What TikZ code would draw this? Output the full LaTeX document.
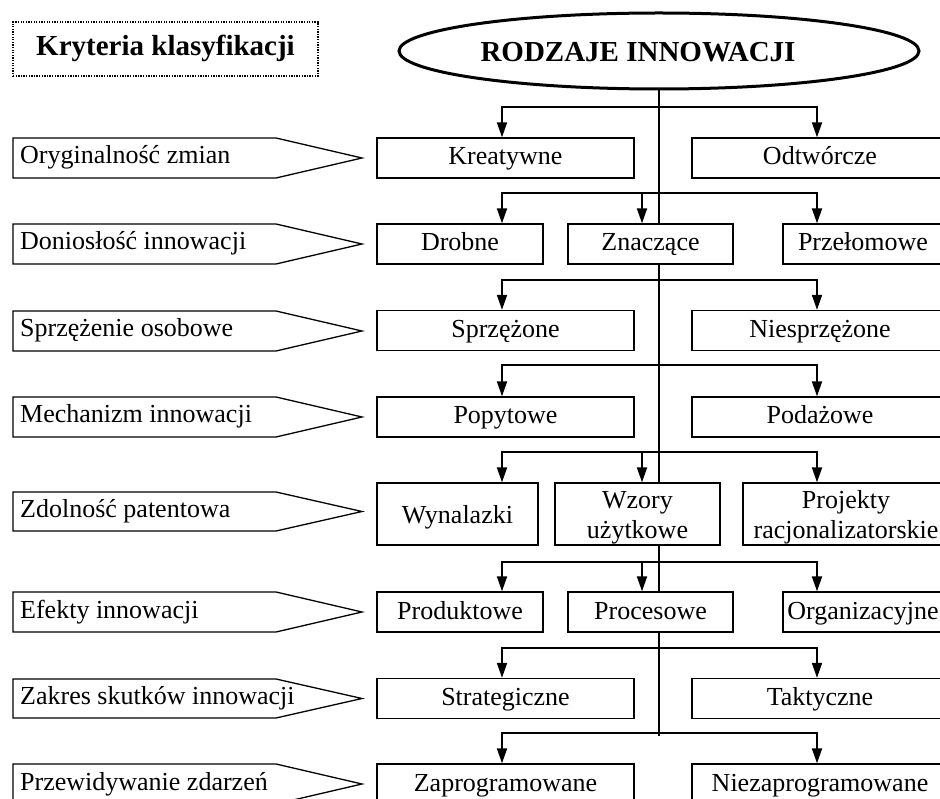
\documentclass[tikz,border=0pt]{standalone}
\usepackage{fontspec}
\setmainfont{Liberation Serif}
\usetikzlibrary{arrows.meta,shapes.geometric}
\pgfdeclarelayer{bg}
\pgfsetlayers{bg,main}
\tikzset{
 boxbase/.style={draw, line width=1.3pt, fill=white, inner sep=0pt,
   font=\fontsize{26}{30}\selectfont},
 box/.style={boxbase, minimum height=40pt, text height=19pt, text depth=5pt},
 tallone/.style={boxbase, minimum height=62pt, text height=18pt, text depth=0pt},
 talltwo/.style={boxbase, minimum height=62pt, align=center},
 fork/.style={line width=1.8pt, -{Triangle[length=15pt,width=10pt]}},
 trunk/.style={line width=1.3pt},
 critpath/.style={line width=1.3pt, line join=miter},
 crittext/.style={anchor=west, inner sep=0pt, text height=18pt, text depth=6pt,
   font=\fontsize{26}{30}\selectfont},
 boldtext/.style={font=\bfseries\fontsize{29}{32}\selectfont, inner sep=0pt},
}
\newcommand\critrow[4]{%
  \draw[critpath] (13,#1) -- (276,#1) -- (362,{(#1+#2)/2}) -- (276,#2) -- (13,#2) -- cycle;
  \node[crittext] (#3) at (20,{(#1+#2)/2}) {#4};}
\newcommand\topstrut{\rule{0pt}{24pt}}
\newcommand\botstrut{\rule[-6pt]{0pt}{6pt}}
\begin{document}
\begin{tikzpicture}[x=1pt,y=-1pt]
\useasboundingbox (0,0) rectangle (940,799);
\clip (0,0) rectangle (940,799);

% header
\node[draw, dash pattern=on 1.3pt off 1.3pt, line width=1.2pt, minimum width=305pt,
  minimum height=54pt, boldtext, text height=20pt, text depth=7pt] (krit) at (165.5,49) {Kryteria klasyfikacji};
\node[ellipse, draw, line width=3pt, minimum width=520pt, minimum height=76pt, inner sep=0pt] (top) at (659,51) {};
\node[boldtext, text height=20pt, text depth=0pt] (toptext) at (638,52) {RODZAJE INNOWACJI};

% criteria
\critrow{138}{178}{c1}{Oryginalność zmian}
\critrow{224}{264}{c2}{Doniosłość innowacji}
\critrow{311}{351}{c3}{Sprzężenie osobowe}
\critrow{397}{437}{c4}{Mechanizm innowacji}
\critrow{492}{531}{c5}{Zdolność patentowa}
\critrow{592}{632}{c6}{Efekty innowacji}
\critrow{679}{718}{c7}{Zakres skutków innowacji}
\critrow{764}{804}{c8}{Przewidywanie zdarzeń}

% boxes
\node[box, minimum width=257pt] (kreat) at (505.5,158) {Kreatywne};
\node[box, minimum width=256pt] (odtw) at (820,158) {Odtwórcze};
\node[box, minimum width=166pt] (drob) at (460,244) {Drobne};
\node[box, minimum width=165pt] (znacz) at (650.5,244) {Znaczące};
\node[box, minimum width=160pt] (przel) at (863,244) {Przełomowe};
\node[box, minimum width=257pt] (sprz) at (505.5,330.5) {Sprzężone};
\node[box, minimum width=256pt] (niesp) at (820,330.5) {Niesprzężone};
\node[box, minimum width=257pt] (popyt) at (505.5,417) {Popytowe};
\node[box, minimum width=256pt] (podaz) at (820,417) {Podażowe};
\node[tallone, minimum width=161pt] (wyn) at (457.5,514) {Wynalazki};
\node[talltwo, minimum width=165pt] (wzory) at (637.5,514) {\topstrut Wzory\\użytkowe\botstrut};
\node[talltwo, minimum width=206pt] (proj) at (846,514) {\topstrut Projekty\\racjonalizatorskie\botstrut};
\node[box, minimum width=166pt] (prod) at (460,612) {Produktowe};
\node[box, minimum width=165pt] (proc) at (650.5,612) {Procesowe};
\node[box, minimum width=160pt] (org) at (863,612) {Organizacyjne};
\node[box, minimum width=257pt] (strat) at (505.5,698.5) {Strategiczne};
\node[box, minimum width=256pt] (takt) at (820,698.5) {Taktyczne};
\node[box, minimum width=257pt] (zapr) at (505.5,784) {Zaprogramowane};
\node[box, minimum width=256pt] (niez) at (820,784) {Niezaprogramowane};

% connector coordinates
\coordinate (xL) at (502,0);
\coordinate (xM) at (642,0);
\coordinate (xR) at (817,0);
\coordinate (f1) at (659,107);
\coordinate (f2) at (659,193);
\coordinate (f3) at (659,280);
\coordinate (f4) at (659,365);
\coordinate (f5) at (659,452);
\coordinate (f6) at (659,562);
\coordinate (f7) at (659,648);
\coordinate (f8) at (659,733);
\coordinate (tend) at (659,736);

\begin{pgfonlayer}{bg}
\draw[trunk] (top.south -| f1) -- (tend);
\end{pgfonlayer}

\draw[fork] (f1) -| (kreat.north -| xL);
\draw[fork] (f1) -| (odtw.north -| xR);
\draw[fork] (f2) -| (drob.north -| xL);
\draw[fork] (f2) -| (znacz.north -| xM);
\draw[fork] (f2) -| (przel.north -| xR);
\draw[fork] (f3) -| (sprz.north -| xL);
\draw[fork] (f3) -| (niesp.north -| xR);
\draw[fork] (f4) -| (popyt.north -| xL);
\draw[fork] (f4) -| (podaz.north -| xR);
\draw[fork] (f5) -| (wyn.north -| xL);
\draw[fork] (f5) -| (wzory.north -| xM);
\draw[fork] (f5) -| (proj.north -| xR);
\draw[fork] (f6) -| (prod.north -| xL);
\draw[fork] (f6) -| (proc.north -| xM);
\draw[fork] (f6) -| (org.north -| xR);
\draw[fork] (f7) -| (strat.north -| xL);
\draw[fork] (f7) -| (takt.north -| xR);
\draw[fork] (f8) -| (zapr.north -| xL);
\draw[fork] (f8) -| (niez.north -| xR);
\end{tikzpicture}
\end{document}
